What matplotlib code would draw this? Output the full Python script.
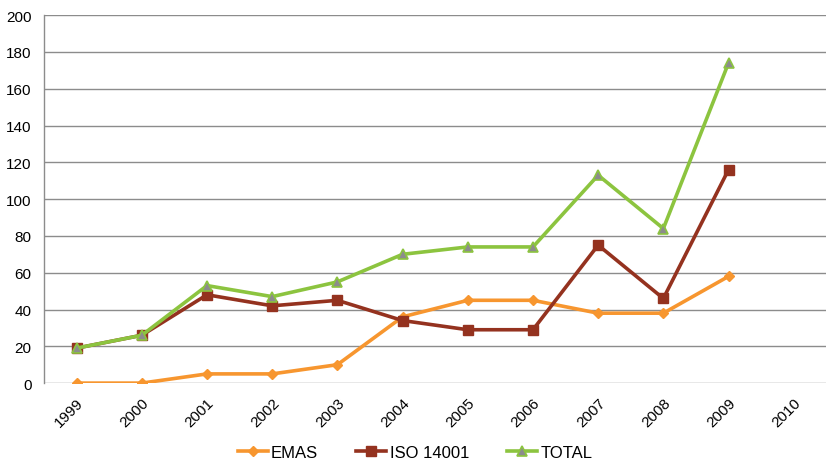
import matplotlib
matplotlib.use("Agg")
import matplotlib.pyplot as plt

plt.rcParams['font.family'] = ['Liberation Sans', 'DejaVu Sans']

years = ['1999', '2000', '2001', '2002', '2003', '2004', '2005', '2006', '2007', '2008', '2009', '2010']
emas = [0, 0, 5, 5, 10, 36, 45, 45, 38, 38, 58]
iso = [19, 26, 48, 42, 45, 34, 29, 29, 75, 46, 116]
total = [19, 26, 53, 47, 55, 70, 74, 74, 113, 84, 174]

fig = plt.figure(figsize=(8.27, 4.6), dpi=100)
ax = fig.add_axes([0.0532, 0.165, 0.946, 0.800])

x = list(range(len(years)))
ax.plot(x[:len(emas)], emas, color='#F7962F', lw=2.6, marker='D', ms=5,
        mfc='#F7962F', mec='#F7962F', label='EMAS', zorder=3)
ax.plot(x[:len(iso)], iso, color='#94321F', lw=2.6, marker='s', ms=7,
        mfc='#94321F', mec='#94321F', label='ISO 14001', zorder=4)
ax.plot(x[:len(total)], total, color='#8CC43F', lw=2.6, marker='^', ms=7,
        mfc='#8C8C8C', mec='#8CC43F', mew=1.2, label='TOTAL', zorder=5)

ax.set_xlim(-0.5, len(years) - 0.5)
ax.set_ylim(0, 200)
ax.set_yticks(range(0, 201, 20))
ax.set_xticks(x)
ax.set_xticklabels(years, rotation=45, ha='right', rotation_mode='anchor')
ax.tick_params(axis='both', labelsize=11, length=0, colors='#000000')
ax.tick_params(axis='y', pad=9)
ax.tick_params(axis='x', pad=9)
ax.grid(axis='y', color='#8C8C8C', lw=1.0)
ax.set_axisbelow(True)
for s in ['top', 'right', 'bottom']:
    ax.spines[s].set_visible(False)
ax.spines['left'].set_color('#8C8C8C')
ax.spines['left'].set_linewidth(1.0)

leg = fig.legend(loc='lower center', bbox_to_anchor=(0.502, -0.035), ncol=3, frameon=False,
                 fontsize=12, handlelength=1.8, columnspacing=2.3, handletextpad=0.2)

fig.savefig('out.png', dpi=100)
